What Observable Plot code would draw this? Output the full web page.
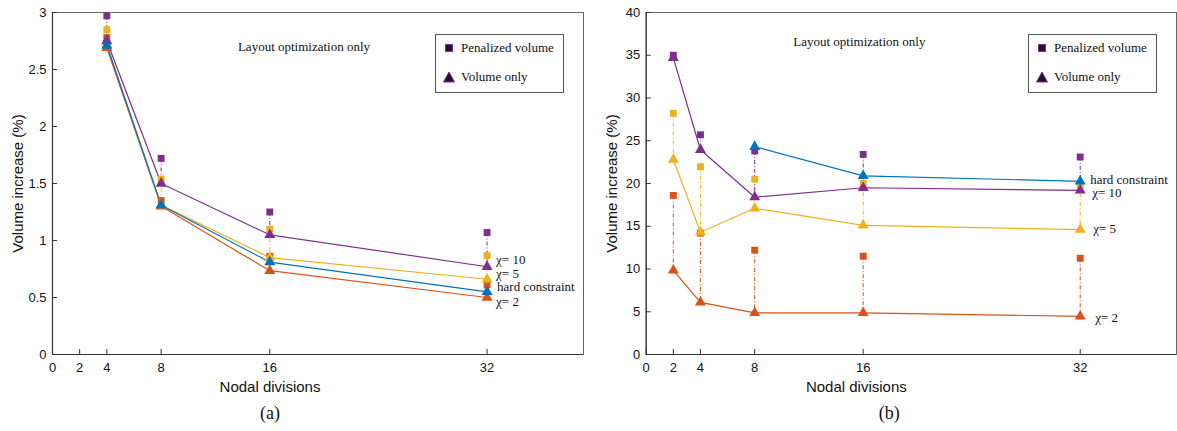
<!DOCTYPE html>
<html>
<head>
<meta charset="utf-8">
<script src="https://cdn.jsdelivr.net/npm/d3@7"></script>
<script src="https://cdn.jsdelivr.net/npm/@observablehq/plot@0.6"></script>
<style>
  html, body { margin: 0; padding: 0; background: #fff; }
  #wrap { display: flex; width: 1177px; height: 431px; }
  .panel { position: relative; }
  .legend { position: absolute; border: 1px solid #555; background: #fff; font-family: "Liberation Serif", serif; font-size: 13px; color: #111; }
  .legend .row { position: absolute; left: 0; display: flex; align-items: center; white-space: nowrap; }
  .legend svg { display: block; }
</style>
</head>
<body>
<div id="wrap"></div>
<script>
// ---------- data ----------
const colChi2 = "#D95319", colChi5 = "#EDB120", colChi10 = "#7E2F8E", colHard = "#0072BD";

// Panel (a)
const aX = [4, 8, 16, 32];
const aChi2Vol = [2.69, 1.30, 0.735, 0.50];
const aChi2Pen = [2.78, 1.35, 0.86, 0.61];
const aChi5Vol = [2.72, 1.31, 0.85, 0.66];
const aChi5Pen = [2.85, 1.54, 1.10, 0.867];
const aChi10Vol = [2.75, 1.50, 1.05, 0.77];
const aChi10Pen = [2.97, 1.72, 1.25, 1.07];
const aHardX = [4, 8, 16, 32];
const aHardVol = [2.71, 1.31, 0.81, 0.55];
const aYTicks = [0, 0.5, 1, 1.5, 2, 2.5, 3];
const aLabels = ["χ= 10", "χ= 5", "hard constraint", "χ= 2"];
const aLabelY = [0.83, 0.705, 0.59, 0.46];

// Panel (b)
const bX = [2, 4, 8, 16, 32];
const bChi2Vol = [9.85, 6.1, 4.87, 4.87, 4.47];
const bChi2Pen = [18.6, 14.2, 12.2, 11.5, 11.25];
const bChi5Vol = [22.8, 14.3, 17.1, 15.1, 14.6];
const bChi5Pen = [28.2, 21.96, 20.5, 20.0, 19.9];
const bChi10Vol = [34.7, 23.95, 18.4, 19.5, 19.2];
const bChi10Pen = [35.0, 25.7, 23.8, 23.4, 23.1];
const bHardX = [8, 16, 32];
const bHardVol = [24.3, 20.9, 20.25];
const bYTicks = [0, 5, 10, 15, 20, 25, 30, 35, 40];
const bLabels = ["hard constraint", "χ= 10", "χ= 5", "χ= 2"];
const bLabelY = [20.45, 18.95, 14.7, 4.3];

const xTicks = [0, 2, 4, 8, 16, 32];

// ---------- drawing ----------
const H = 431, MT = 12, MB = 77;

function makePanel(opt) {
  const {width, marginLeft, marginRight, yDomain, yTicks, series, hard, labels, labelY, labelDx, caption, xLabelDx, captionDx} = opt;
  const plotW = width - marginLeft - marginRight;
  const plotH = H - MT - MB;
  const marks = [];
  for (const s of series) {
    const rows = s.x.map((x, i) => ({x, y1: s.pen[i], y2: s.vol[i]}));
    marks.push(Plot.link(rows, {x1: "x", x2: "x", y1: "y1", y2: "y2", stroke: s.color, strokeWidth: 1, strokeDasharray: "4,2,1,2"}));
  }
  const all = [...series, hard];
  for (const s of all) {
    const rows = s.x.map((x, i) => ({x, y: s.vol[i]}));
    marks.push(Plot.line(rows, {x: "x", y: "y", stroke: s.color, strokeWidth: 1.2}));
  }
  for (const s of all) {
    if (s.pen) {
      const rows = s.x.map((x, i) => ({x, y: s.pen[i]}));
      marks.push(Plot.dot(rows, {x: "x", y: "y", symbol: "square", r: 3.9, fill: s.color, stroke: "none"}));
    }
  }
  for (const s of all) {
    const rows = s.x.map((x, i) => ({x, y: s.vol[i]}));
    marks.push(Plot.dot(rows, {x: "x", y: "y", symbol: "triangle", r: 4.1, fill: s.color, stroke: "none"}));
  }
  labels.forEach((t, i) => {
    marks.push(Plot.text([t], {x: () => 32, y: () => labelY[i], text: d => d, dx: labelDx[i], textAnchor: "start", fontFamily: "Liberation Serif", fontSize: 13, fill: "#111"}));
  });
  marks.push(Plot.text(["Layout optimization only"], {frameAnchor: "top", dx: opt.annoDx, dy: opt.annoDy, fontFamily: "Liberation Serif", fontSize: 13, fill: "#111"}));
  marks.push(Plot.frame({stroke: "#666", strokeWidth: 1}));
  marks.push(Plot.ruleX([0], {stroke: "#333", strokeWidth: 1.2}));
  marks.push(Plot.ruleY([0], {stroke: "#333", strokeWidth: 1.2}));
  marks.push(Plot.tickX(xTicks, {x: d => d, insetTop: plotH - 5, stroke: "#333"}));
  marks.push(Plot.tickY(yTicks, {y: d => d, insetRight: plotW - 5, stroke: "#333"}));
  marks.push(Plot.axisX({ticks: xTicks, tickSize: 0, tickPadding: 8, label: null, tickFormat: d => String(d), fontSize: 13}));
  marks.push(Plot.axisY({ticks: yTicks, tickSize: 0, tickPadding: 6, label: null, tickFormat: d => String(d), fontSize: 13}));
  marks.push(Plot.text(["Volume increase (%)"], {frameAnchor: "left", rotate: -90, dx: opt.yLabelDx, textAnchor: "middle", lineAnchor: "middle", fontSize: 15}));
  marks.push(Plot.text(["Nodal divisions"], {frameAnchor: "bottom", dx: xLabelDx, dy: 33, lineAnchor: "middle", fontSize: 15}));
  marks.push(Plot.text([caption], {frameAnchor: "bottom", dx: captionDx, dy: 59, lineAnchor: "middle", fontFamily: "Liberation Serif", fontSize: 18}));

  return Plot.plot({
    width, height: H,
    marginTop: MT, marginBottom: MB, marginLeft, marginRight,
    style: {fontFamily: "Liberation Sans, Arial, sans-serif", fontSize: "13px", color: "#111", background: "#fff", overflow: "visible"},
    x: {domain: [0, 39.1], type: "linear"},
    y: {domain: yDomain},
    marks
  });
}

function legend(left, top) {
  const d = document.createElement("div");
  d.className = "legend";
  d.style.left = left + "px"; d.style.top = top + "px";
  d.style.width = "127px"; d.style.height = "57px";
  d.innerHTML = `
    <div class="row" style="top:5px;left:6px"><svg width="14" height="14"><rect x="3.5" y="3.5" width="7" height="7" fill="#2a0a30" stroke="#7E2F8E" stroke-width="1"/></svg><span style="margin-left:5px">Penalized volume</span></div>
    <div class="row" style="top:34px;left:6px"><svg width="14" height="14"><path d="M7,2 L12.5,12 L1.5,12 Z" fill="#2a0a30" stroke="#7E2F8E" stroke-width="1"/></svg><span style="margin-left:5px">Volume only</span></div>`;
  return d;
}

const wrap = document.getElementById("wrap");

const pa = document.createElement("div"); pa.className = "panel"; pa.style.width = "588px";
pa.appendChild(makePanel({
  width: 588, marginLeft: 52, marginRight: 5,
  yDomain: [0, 3], yTicks: aYTicks,
  series: [
    {x: aX, vol: aChi2Vol, pen: aChi2Pen, color: colChi2},
    {x: aX, vol: aChi5Vol, pen: aChi5Pen, color: colChi5},
    {x: aX, vol: aChi10Vol, pen: aChi10Pen, color: colChi10}
  ],
  hard: {x: aHardX, vol: aHardVol, color: colHard},
  labels: aLabels, labelY: aLabelY, labelDx: [9, 9, 10, 9],
  caption: "(a)", xLabelDx: -48, captionDx: -48, yLabelDx: -34,
  annoDx: -14, annoDy: 29
}));
pa.appendChild(legend(435, 34));
wrap.appendChild(pa);

const pb = document.createElement("div"); pb.className = "panel"; pb.style.width = "589px";
pb.appendChild(makePanel({
  width: 589, marginLeft: 57.7, marginRight: 1,
  yDomain: [0, 40], yTicks: bYTicks,
  series: [
    {x: bX, vol: bChi2Vol, pen: bChi2Pen, color: colChi2},
    {x: bX, vol: bChi5Vol, pen: bChi5Pen, color: colChi5},
    {x: bX, vol: bChi10Vol, pen: bChi10Pen, color: colChi10}
  ],
  hard: {x: bHardX, vol: bHardVol, color: colHard},
  labels: bLabels, labelY: bLabelY, labelDx: [10, 12, 13, 15],
  caption: "(b)", xLabelDx: -55, captionDx: -22, yLabelDx: -34,
  annoDx: -52, annoDy: 24
}));
pb.appendChild(legend(1028 - 588, 34));
wrap.appendChild(pb);
</script>
</body>
</html>
